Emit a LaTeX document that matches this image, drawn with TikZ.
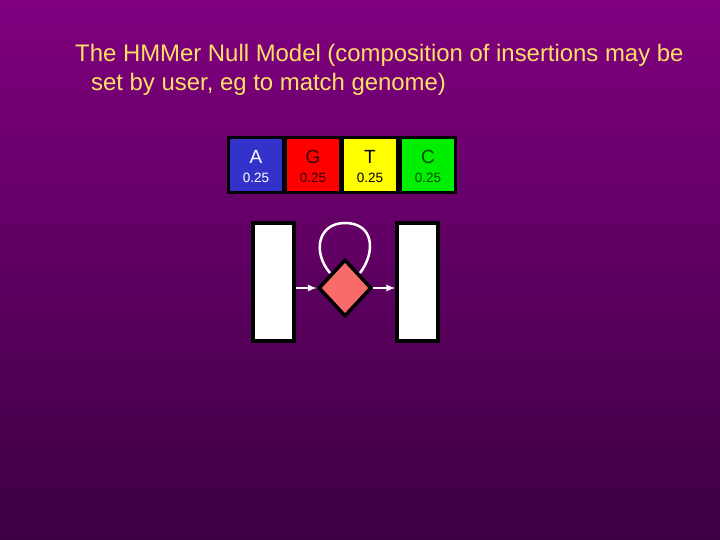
\documentclass[tikz,border=0pt]{standalone}
\usepackage{fontspec}
\setmainfont{Liberation Sans}
\usetikzlibrary{arrows}
\usetikzlibrary{positioning}
\usetikzlibrary{shapes.geometric}
\definecolor{TopPurple}{HTML}{800080}
\definecolor{LowPurple}{HTML}{3C0042}
\definecolor{TitleYellow}{HTML}{FFE066}
\definecolor{BaseA}{HTML}{3333CC}
\definecolor{BaseG}{HTML}{FF0000}
\definecolor{BaseT}{HTML}{FFFF00}
\definecolor{BaseC}{HTML}{00EE00}
\definecolor{Salmon}{HTML}{F76B6B}
\tikzset{
  basebox/.style={draw=black,line width=3pt,minimum width=55pt,minimum height=55pt,inner sep=0pt},
  staterect/.style={draw=black,fill=white,line width=3.5pt,minimum width=41pt,minimum height=118pt,inner sep=0pt},
  nullstate/.style={draw=black,fill=Salmon,diamond,line width=3.5pt,minimum width=53pt,minimum height=57pt,inner sep=0pt},
  flow/.style={white,line width=2pt,-latex}
}

\begin{document}
\begin{tikzpicture}[x=1pt,y=-1pt]
  \shade[top color=TopPurple,bottom color=LowPurple] (0,0) rectangle (720,540);
  \useasboundingbox (0,0) rectangle (720,540);

  \node[anchor=north west,align=left,text=TitleYellow,font=\fontsize{23.9}{29}\selectfont,inner sep=0pt]
    (Title) at (75,44) {The HMMer Null Model (composition of insertions may be\\
    \hspace*{16pt}set by user, eg to match genome)};

  % emission table of the null state
  \foreach \b/\x/\bg/\fg in {A/256/BaseA/white,G/313/BaseG/black!80!red,T/370/BaseT/black,C/428/BaseC/black!70!green}{%
    \node[basebox,fill=\bg] (Box\b) at (\x,165) {};
    \node[text=\fg,font=\fontsize{19}{19}\selectfont] (Letter\b) at (\x,157) {\b};
    \node[text=\fg,font=\fontsize{13.5}{14}\selectfont] (Prob\b) at (\x,178) {0.25};
  }

  \node[staterect] (Begin) at (273.5,282) {};
  \node[staterect] (End) at (417.5,282) {};
  \node[nullstate] (Null) at (345,288) {};

  \draw[flow] (Begin.east |- Null) -- (Null.west);
  \draw[flow] (Null.east) -- (End.west |- Null);
  \draw[white,line width=2.5pt] (330,273)
    .. controls (312,252) and (318,223) .. (345,223)
    .. controls (374,223) and (376,252) .. (360,273);
\end{tikzpicture}
\end{document}
